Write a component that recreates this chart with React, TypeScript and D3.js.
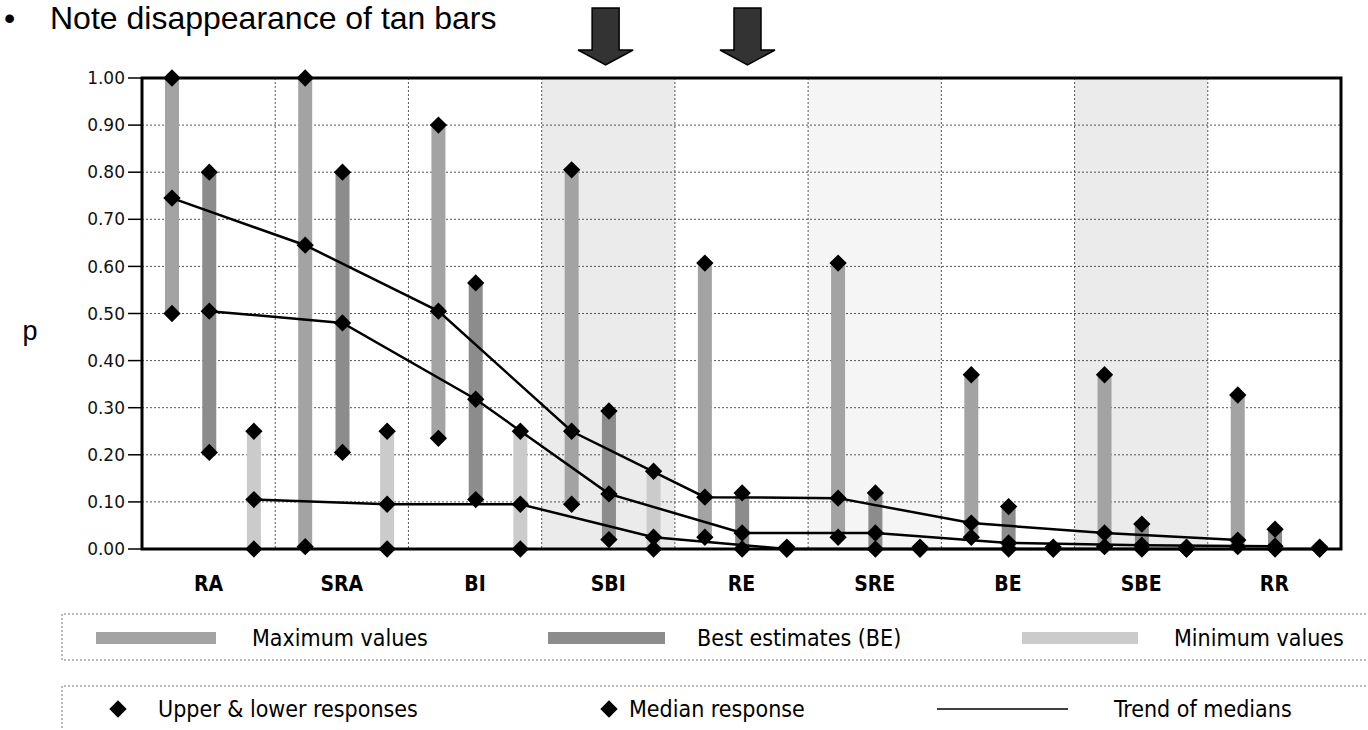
import React from "react";
import * as d3 from "d3";

const categories = ["RA", "SRA", "BI", "SBI", "RE", "SRE", "BE", "SBE", "RR"];

// Maximum values series
const maxLow = [0.5, 0.005, 0.235, 0.095, 0.025, 0.025, 0.025, 0.005, 0.005];
const maxMed = [0.745, 0.645, 0.505, 0.25, 0.11, 0.108, 0.055, 0.034, 0.019];
const maxHigh = [1.0, 1.0, 0.9, 0.805, 0.607, 0.607, 0.37, 0.37, 0.327];

// Best estimates series
const beLow = [0.205, 0.205, 0.105, 0.02, 0.0, 0.0, 0.0, 0.0, 0.0];
const beMed = [0.505, 0.48, 0.318, 0.117, 0.034, 0.034, 0.013, 0.008, 0.006];
const beHigh = [0.8, 0.8, 0.565, 0.293, 0.119, 0.119, 0.09, 0.053, 0.042];

// Minimum values series
const minLow = [0, 0, 0, 0, 0, 0, 0, 0, 0];
const minMed = [0.105, 0.095, 0.095, 0.025, 0, 0, 0, 0, 0];
const minHigh = [0.25, 0.25, 0.25, 0.165, 0.004, 0.004, 0.004, 0.004, 0.004];

const yTicks = [0, 0.1, 0.2, 0.3, 0.4, 0.5, 0.6, 0.7, 0.8, 0.9, 1.0];
const shadedGroups = ["SBI", "SRE", "SBE"];
const arrowGroups = ["SBI", "RE"];

const W = 1368;
const H = 730;
const L = 142;
const R = 1341;
const T = 78;
const B = 549;

const x = d3.scaleBand<string>().domain(categories).range([L, R]).padding(0);
const y = d3.scaleLinear().domain([0, 1]).range([B, T]);
const bw = x.bandwidth();

const series = [
  { key: "max", off: 0.225, low: maxLow, med: maxMed, high: maxHigh, fill: "#a3a3a3" },
  { key: "be", off: 0.505, low: beLow, med: beMed, high: beHigh, fill: "#8c8c8c" },
  { key: "min", off: 0.84, low: minLow, med: minMed, high: minHigh, fill: "#cbcbcb" },
];

const diamond = d3.symbol().type(d3.symbolSquare).size(150)();

const sans = "'DejaVu Sans', Verdana, sans-serif";
const cond = "'DejaVu Sans Condensed', 'DejaVu Sans', sans-serif";
const arial = "'Liberation Sans', Arial, sans-serif";

function Diamond({ cx, cy }: { cx: number; cy: number }) {
  return <path d={diamond || ""} transform={`translate(${cx},${cy}) rotate(45)`} fill="#000" />;
}

export default function App() {
  const shadeFill: Record<string, string> = { SBI: "#ebebeb", SRE: "#f5f5f5", SBE: "#ebebeb" };
  const line = d3
    .line<[number, number]>()
    .x((d) => d[0])
    .y((d) => d[1]);

  return (
    <svg width={W} height={H} style={{ position: "absolute", left: 0, top: 0, background: "#fff" }}>
      {/* Title */}
      <text x={4} y={29} fontFamily={arial} fontSize={32} fill="#000">
        •
      </text>
      <text x={50} y={29} fontFamily={arial} fontSize={32} fill="#000">
        Note disappearance of tan bars
      </text>

      {/* Arrows */}
      {arrowGroups.map((g, i) => {
        const cx = (x(g) as number) + bw * (i === 0 ? 0.48 : 0.545);
        const p = `M${cx - 13.5},8 L${cx + 13.5},8 L${cx + 13.5},50 L${cx + 27.5},50 L${cx},65 L${cx - 27.5},50 L${cx - 13.5},50 Z`;
        return <path key={g} d={p} fill="#333" stroke="#000" strokeWidth={1.5} />;
      })}

      {/* Shaded groups */}
      {shadedGroups.map((g) => (
        <rect key={g} x={x(g)} y={T} width={bw} height={B - T} fill={shadeFill[g]} />
      ))}

      {/* Gridlines */}
      {yTicks.slice(1, -1).map((t) => (
        <line key={t} x1={L} x2={R} y1={y(t)} y2={y(t)} stroke="#555" strokeWidth={1} strokeDasharray="2 2" />
      ))}
      {categories.slice(1).map((c) => (
        <line key={c} x1={x(c)} x2={x(c)} y1={T} y2={B} stroke="#555" strokeWidth={1} strokeDasharray="2 2" />
      ))}

      {/* Bars */}
      {series.map((s) =>
        categories.map((c, i) => {
          const cx = (x(c) as number) + s.off * bw;
          const top = y(s.high[i]);
          const bot = y(s.low[i]);
          return <rect key={s.key + c} x={cx - 7} y={top} width={14} height={Math.max(0, bot - top)} fill={s.fill} />;
        })
      )}

      {/* Trend lines */}
      {series.map((s) => (
        <path
          key={"l" + s.key}
          d={line(categories.map((c, i) => [(x(c) as number) + s.off * bw, y(s.med[i])])) || ""}
          fill="none"
          stroke="#000"
          strokeWidth={2.5}
        />
      ))}

      {/* Diamonds */}
      {series.map((s) =>
        categories.map((c, i) => {
          const cx = (x(c) as number) + s.off * bw;
          return (
            <g key={"d" + s.key + c}>
              <Diamond cx={cx} cy={y(s.high[i])} />
              <Diamond cx={cx} cy={y(s.low[i])} />
              <Diamond cx={cx} cy={y(s.med[i])} />
            </g>
          );
        })
      )}

      {/* Frame */}
      <rect x={L} y={T} width={R - L} height={B - T} fill="none" stroke="#000" strokeWidth={3} />

      {/* Y axis ticks and labels */}
      {yTicks.map((t) => (
        <g key={"t" + t}>
          <line x1={128} x2={L} y1={y(t)} y2={y(t)} stroke="#000" strokeWidth={1.5} />
          <text x={125} y={y(t)} dy="0.36em" textAnchor="end" fontFamily={sans} fontSize={17} fill="#111">
            {t.toFixed(2)}
          </text>
        </g>
      ))}

      {/* Y label */}
      <text x={30} y={340} textAnchor="middle" fontFamily={arial} fontSize={27}>
        p
      </text>

      {/* Category labels */}
      {categories.map((c) => (
        <text
          key={"c" + c}
          x={(x(c) as number) + bw / 2}
          y={591}
          textAnchor="middle"
          fontFamily={cond}
          fontWeight="bold"
          fontSize={21}
          fill="#000"
        >
          {c}
        </text>
      ))}

      {/* Legend row 1 */}
      <path d="M1366,614 L62,614 L62,660 L1366,660" fill="none" stroke="#777" strokeDasharray="2 2" />
      <rect x={96} y={632} width={120} height={12} fill={series[0].fill} />
      <text x={252} y={638} dy="0.36em" fontFamily={cond} fontSize={23}>Maximum values</text>
      <rect x={548} y={632} width={117} height={12} fill={series[1].fill} />
      <text x={697} y={638} dy="0.36em" fontFamily={cond} fontSize={23}>Best estimates (BE)</text>
      <rect x={1022} y={632} width={116} height={12} fill={series[2].fill} />
      <text x={1174} y={638} dy="0.36em" fontFamily={cond} fontSize={23}>Minimum values</text>

      {/* Legend row 2 */}
      <path d="M1366,686 L62,686 L62,730" fill="none" stroke="#777" strokeDasharray="2 2" />
      <Diamond cx={118} cy={709} />
      <text x={158} y={709} dy="0.36em" fontFamily={cond} fontSize={23}>Upper &amp; lower responses</text>
      <Diamond cx={609} cy={709} />
      <text x={629} y={709} dy="0.36em" fontFamily={cond} fontSize={23}>Median response</text>
      <line x1={937} x2={1068} y1={709} y2={709} stroke="#000" strokeWidth={1.5} />
      <text x={1114} y={709} dy="0.36em" fontFamily={cond} fontSize={23}>Trend of medians</text>
    </svg>
  );
}
